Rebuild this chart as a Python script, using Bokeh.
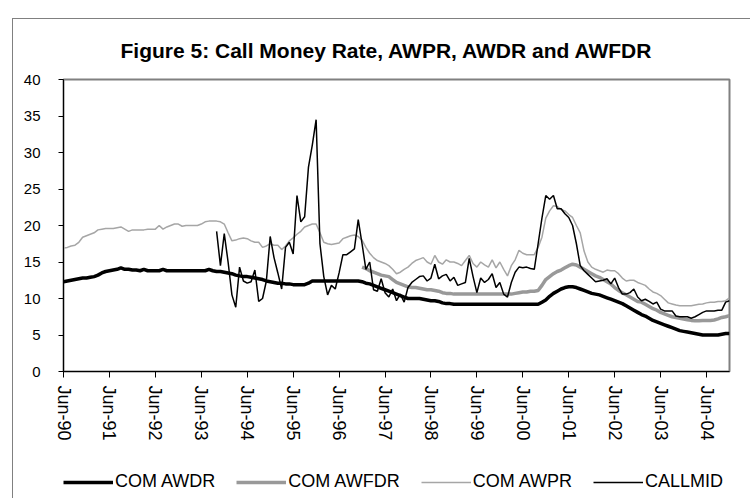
from bokeh.plotting import figure
from bokeh.layouts import column
from bokeh.models import FixedTicker, Legend, LegendItem, Range1d, Label
from bokeh.embed import file_html
from bokeh.resources import INLINE

# ---- data (monthly, index 0 = Jun-90) ----
title_text = "Figure 5: Call Money Rate, AWPR, AWDR and AWFDR"
tick_labels = ["Jun-90", "Jun-91", "Jun-92", "Jun-93", "Jun-94", "Jun-95", "Jun-96",
               "Jun-97", "Jun-98", "Jun-99", "Jun-00", "Jun-01", "Jun-02", "Jun-03", "Jun-04"]

awdr_start = 0
awdr = [12.3, 12.4, 12.5, 12.6, 12.7, 12.8, 12.8, 12.9, 13.0, 13.2, 13.5, 13.7,
        13.8, 13.9, 14.0, 14.2, 14.0, 14.0, 13.9, 13.9, 13.8, 14.0, 13.8, 13.8,
        13.8, 13.8, 14.0, 13.8, 13.8, 13.8, 13.8, 13.8, 13.8, 13.8, 13.8, 13.8,
        13.8, 13.8, 14.0, 13.8, 13.7, 13.7, 13.6, 13.5, 13.4, 13.2, 13.1, 13.0,
        13.0, 12.9, 12.8, 12.7, 12.6, 12.4, 12.3, 12.2, 12.1, 12.1, 12.0, 12.0,
        11.9, 11.9, 11.9, 11.9, 12.1, 12.4, 12.4, 12.4, 12.4, 12.4, 12.4, 12.4,
        12.4, 12.4, 12.4, 12.4, 12.4, 12.4, 12.3, 12.1, 12.0, 11.8, 11.6, 11.4,
        11.2, 11.0, 10.8, 10.6, 10.4, 10.2, 10.0, 10.0, 10.0, 10.0, 9.9, 9.8,
        9.7, 9.7, 9.6, 9.4, 9.3, 9.3, 9.2, 9.2, 9.2, 9.2, 9.2, 9.2,
        9.2, 9.2, 9.2, 9.2, 9.2, 9.2, 9.2, 9.2, 9.2, 9.2, 9.2, 9.2,
        9.2, 9.2, 9.2, 9.2, 9.2, 9.5, 9.8, 10.3, 10.7, 11.0, 11.3, 11.5,
        11.6, 11.6, 11.5, 11.3, 11.1, 10.9, 10.7, 10.6, 10.5, 10.3, 10.1, 9.9,
        9.7, 9.5, 9.3, 9.0, 8.7, 8.4, 8.1, 7.8, 7.6, 7.3, 7.0, 6.8,
        6.6, 6.4, 6.2, 6.0, 5.8, 5.6, 5.5, 5.4, 5.3, 5.2, 5.1, 5.0,
        5.0, 5.0, 5.0, 5.0, 5.1, 5.2, 5.2]

awfdr_start = 78
awfdr = [14.3, 14.1, 13.8, 13.6, 13.4, 13.2, 13.1, 13.0, 12.6, 12.2, 12.0, 11.8,
         11.6, 11.5, 11.5, 11.4, 11.3, 11.2, 11.2, 11.1, 11.0, 10.8, 10.7, 10.7,
         10.6, 10.6, 10.6, 10.6, 10.6, 10.6, 10.6, 10.6, 10.6, 10.6, 10.6, 10.6,
         10.6, 10.6, 10.6, 10.6, 10.7, 10.8, 10.9, 10.9, 11.0, 11.0, 11.1, 11.8,
         12.6, 13.0, 13.4, 13.7, 13.9, 14.2, 14.5, 14.7, 14.6, 14.3, 14.0, 13.7,
         13.4, 13.1, 12.9, 12.6, 12.3, 12.0, 11.5, 11.1, 10.8, 10.5, 10.2, 9.9,
         9.6, 9.5, 9.2, 8.9, 8.6, 8.4, 8.1, 7.9, 7.7, 7.5, 7.4, 7.3,
         7.2, 7.1, 7.0, 6.95, 6.95, 7.0, 7.0, 7.0, 7.05, 7.2, 7.4, 7.5,
         7.65]

awpr_start = 0
awpr = [16.9, 17.0, 17.2, 17.3, 17.7, 18.4, 18.6, 18.8, 19.0, 19.4, 19.5, 19.6,
        19.6, 19.6, 19.7, 19.8, 19.5, 19.2, 19.4, 19.4, 19.4, 19.4, 19.5, 19.5,
        19.5, 20.0, 19.5, 19.8, 20.0, 20.2, 20.2, 19.9, 20.0, 20.0, 20.0, 20.0,
        20.2, 20.5, 20.6, 20.6, 20.6, 20.5, 20.2, 19.0, 17.9, 18.0, 18.2, 18.3,
        18.2, 17.9, 17.7, 17.7, 17.0, 17.2, 17.5, 17.3, 17.3, 16.7, 17.2, 17.9,
        18.3, 18.8, 19.2, 19.8, 20.0, 20.2, 20.2, 19.0, 17.7, 17.5, 17.4, 17.5,
        17.6, 18.2, 18.4, 18.6, 18.7, 18.5, 18.0, 17.0, 16.2, 15.6, 15.2, 15.0,
        14.8, 14.5, 14.0, 13.4, 13.6, 14.0, 14.3, 14.8, 15.2, 15.4, 15.6, 15.0,
        14.7, 15.9, 15.0, 14.7, 15.3, 15.0, 15.0, 14.8, 14.5, 15.2, 15.9, 14.8,
        14.3, 15.0, 14.6, 14.3, 15.3, 14.2, 15.0, 14.0, 13.1, 14.5, 15.3, 16.6,
        16.2, 16.0, 16.0, 16.0, 17.0, 18.4, 21.0, 22.0, 22.7, 22.6, 22.2, 22.0,
        21.5, 21.1, 20.0, 19.0, 16.5, 15.0, 14.3, 14.0, 13.8, 13.6, 13.9, 13.8,
        13.8, 13.4, 12.8, 12.4, 12.5, 12.5, 12.2, 12.0, 11.8, 11.3, 10.9, 10.7,
        10.4, 9.9, 9.4, 9.25, 9.1, 9.0, 9.0, 9.0, 9.0, 9.1, 9.2, 9.25,
        9.4, 9.5, 9.5, 9.6, 9.6, 9.7, 10.1]

callmid_start = 40
callmid = [19.2, 14.5, 18.9, 15.0, 10.5, 8.8, 14.3, 12.4, 12.1, 12.3, 13.9, 9.6,
           10.0, 12.4, 18.5, 15.6, 13.5, 11.3, 17.0, 17.7, 16.1, 24.1, 20.5, 21.2,
           28.0, 31.0, 34.5, 17.5, 13.0, 10.5, 11.8, 11.3, 13.5, 16.0, 16.0, 16.4,
           16.8, 20.8, 17.5, 14.0, 15.0, 11.2, 11.0, 12.7, 10.8, 10.2, 11.3, 9.7,
           10.6, 9.5, 11.5, 12.2, 12.6, 13.0, 13.1, 12.4, 12.8, 14.7, 12.7, 13.1,
           13.3, 12.4, 12.9, 11.8, 12.0, 12.2, 15.5, 13.0, 10.8, 12.8, 12.2, 12.6,
           13.4, 11.5, 12.2, 10.6, 10.2, 12.2, 13.6, 14.3, 14.2, 14.3, 14.1, 14.0,
           17.5, 21.0, 24.1, 23.6, 24.1, 22.3, 22.3, 21.6, 21.1, 20.0, 17.5, 14.5,
           13.8, 13.3, 12.8, 12.3, 12.4, 12.5, 12.7, 12.0, 12.8, 11.5, 10.6, 10.6,
           10.8, 11.3, 10.2, 9.7, 9.9, 9.6, 9.25, 9.5, 8.55, 8.3, 8.3, 8.3,
           7.6, 7.5, 7.5, 7.5, 7.3, 7.5, 7.8, 8.1, 8.3, 8.3, 8.3, 8.4,
           8.4, 9.5, 9.7]

series_names = ["COM AWDR", "COM AWFDR", "COM AWPR", "CALLMID"]
y_ticks = [0, 5, 10, 15, 20, 25, 30, 35, 40]


def xs(start, vals):
    return list(range(start, start + len(vals)))


n_months = len(awdr)
tick_pos = [12 * i for i in range(len(tick_labels))]
series = [(awdr_start, awdr), (awfdr_start, awfdr), (awpr_start, awpr), (callmid_start, callmid)]

FONT = "Liberation Sans"
W = 737
BL, BR = 50, 21
FRAME_W = W - BL - BR
styles = [dict(line_color="#000000", line_width=3.5),
          dict(line_color="#999999", line_width=3.5),
          dict(line_color="#a6a6a6", line_width=1.5),
          dict(line_color="#000000", line_width=1.5)]


def strip(height, y_range):
    f = figure(width=W, height=height, x_range=Range1d(0, FRAME_W), y_range=y_range,
               output_backend="svg", toolbar_location=None,
               x_axis_type=None, y_axis_type=None,
               min_border_left=BL, min_border_right=BR, min_border_top=0, min_border_bottom=0)
    f.xgrid.visible = False
    f.ygrid.visible = False
    f.outline_line_color = None
    f.background_fill_color = "white"
    f.border_fill_color = "white"
    return f


# ---- title strip ----
TITLE_H = 50
tp = strip(TITLE_H, Range1d(0, TITLE_H))
tp.add_layout(Label(x=57, y=19, text=title_text, text_font=FONT, text_font_style="bold",
                    text_font_size="21px", text_color="#000000", text_baseline="alphabetic"))

# ---- main chart ----
p = figure(width=W, height=390,
           x_range=Range1d(0, n_months - 1), y_range=Range1d(0, 40),
           output_backend="svg", toolbar_location=None,
           min_border_left=BL, min_border_right=BR,
           min_border_top=10, min_border_bottom=88)
p.xgrid.visible = False
p.ygrid.visible = False
p.outline_line_color = "#808080"
p.outline_line_width = 2
p.background_fill_color = "white"
p.border_fill_color = "white"

for (st, vals), sty in zip(series, styles):
    p.line(xs(st, vals), vals, **sty)

xa = p.xaxis[0]
xa.ticker = FixedTicker(ticks=tick_pos)
xa.major_label_overrides = {pos: lab for pos, lab in zip(tick_pos, tick_labels)}
xa.major_label_orientation = "vertical"
xa.major_label_text_font = FONT
xa.major_label_text_font_size = "18px"
xa.major_label_text_color = "#000000"
xa.major_tick_in = 0
xa.major_tick_out = 6
xa.minor_tick_line_color = None
xa.major_label_standoff = 8
xa.axis_line_color = "#000000"
xa.major_tick_line_color = "#000000"

ya = p.yaxis[0]
ya.ticker = FixedTicker(ticks=y_ticks)
ya.major_label_text_font = FONT
ya.major_label_text_font_size = "15px"
ya.major_label_text_color = "#000000"
ya.major_tick_in = 0
ya.major_tick_out = 5
ya.minor_tick_line_color = None
ya.major_label_standoff = 18
ya.axis_line_color = "#000000"
ya.major_tick_line_color = "#000000"

# ---- legend strip: its lines reuse the series but sit outside this strip's y range ----
LEG_H = 39
lp = strip(LEG_H, Range1d(-LEG_H - 100, -100))
items = []
for name, (st, vals), sty in zip(series_names, series, styles):
    rr = lp.line(xs(st, vals), vals, **sty)
    items.append(LegendItem(label=name, renderers=[rr]))
legend = Legend(items=items, orientation="horizontal", location=(0, 6),
                glyph_width=50, glyph_height=20, label_height=20,
                label_text_font=FONT, label_text_font_size="18px",
                label_text_color="#000000",
                label_standoff=2, spacing=21, padding=0, margin=0,
                border_line_alpha=0, background_fill_alpha=0)
lp.add_layout(legend)

layout = column(tp, p, lp, spacing=0)
layout.margin = (18, 0, 0, 12)
layout.styles = {"border-left": "1px solid #808080", "border-top": "1px solid #808080"}

open("out.html", "w").write(file_html(layout, INLINE))
